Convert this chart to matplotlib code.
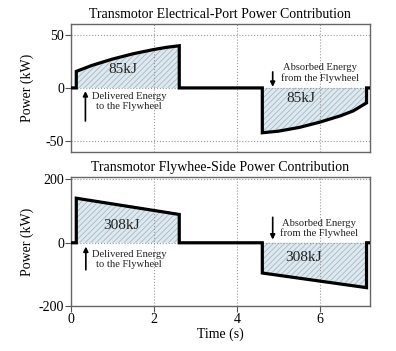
import numpy as np
import matplotlib
matplotlib.use("Agg")
import matplotlib.pyplot as plt

plt.rcParams['font.family'] = ['Liberation Serif', 'DejaVu Serif']
plt.rcParams['axes.unicode_minus'] = False
plt.rcParams['hatch.color'] = '#a9b7bf'
plt.rcParams['hatch.linewidth'] = 0.6

# electrical-port power (kW) vs time (s)
t_elec = [0, 0.13, 0.13, 0.5, 1.0, 1.5, 2.0, 2.3, 2.61, 2.61,
          4.61, 4.61, 5.0, 5.5, 6.0, 6.5, 6.8, 7.12, 7.12, 7.2]
p_elec = [0, 0, 15.5, 21, 27, 32, 36, 38, 39.5, 0,
          0, -42, -40.5, -37, -32, -26, -21.5, -14, 0, 0]

# flywheel-side power (kW) vs time (s)
t_fly = [0, 0.13, 0.13, 2.61, 2.61, 4.61, 4.61, 7.12, 7.12, 7.2]
p_fly = [0, 0, 140, 89, 0, 0, -95, -141, 0, 0]

titles = ["Transmotor Electrical-Port Power Contribution",
          "Transmotor Flywhee-Side Power Contribution"]
energy_labels = ["85kJ", "308kJ"]
delivered_txt = "Delivered Energy\nto the Flywheel"
absorbed_txt = "Absorbed Energy\nfrom the Flywheel"

fig = plt.figure(figsize=(3.96, 3.51), dpi=100)
ax1 = fig.add_axes([0.179, 0.567, 0.755, 0.365])
ax2 = fig.add_axes([0.179, 0.127, 0.755, 0.369])

panels = [
    # ax, t, p, ylim, yticks, energy pos (pos, neg), delivered text/arrow, absorbed text/arrow
    (ax1, t_elec, p_elec, (-60, 60), [-50, 0, 50],
     [(1.25, 17), (5.55, -10)],
     (1.4, -13), (0.35, -31, -3), (6.0, 14), (4.86, 15, 1)),
    (ax2, t_fly, p_fly, (-200, 207), [-200, 0, 200],
     [(1.23, 54), (5.6, -47)],
     (1.4, -52), (0.36, -85, -12), (5.97, 45), (4.86, 80, 10)),
]

for i, (ax, t, p, ylim, yticks, epos, dtxt, darr, atxt, aarr) in enumerate(panels):
    ax.fill_between(t, p, 0, facecolor='#dde9f0', hatch='//////',
                    edgecolor='#a9b7bf', linewidth=0, zorder=1)
    ax.plot(t, p, color='black', lw=2.3, solid_joinstyle='miter', zorder=3)
    ax.set_xlim(0, 7.2)
    ax.set_ylim(*ylim)
    ax.set_yticks(yticks)
    ax.set_xticks([0, 2, 4, 6])
    ax.grid(True, linestyle=':', color='#999999', lw=0.8, zorder=0)
    for s in ax.spines.values():
        s.set_color('#666666')
        s.set_linewidth(1.0)
    ax.tick_params(labelsize=10, length=4, width=0.8, color='#555555', pad=1)
    ax.set_ylabel("Power (kW)", fontsize=10)
    ax.yaxis.set_label_coords(-0.125, 0.5)
    ax.set_title(titles[i], fontsize=10, pad=4)

    for (x, y) in epos:
        ax.text(x, y, energy_labels[i], fontsize=11, ha='center', va='center',
                color='#222222', zorder=4)

    ax.text(dtxt[0], dtxt[1], delivered_txt, fontsize=7.6, ha='center', va='center',
            multialignment='center', linespacing=1.15, color='#222222', zorder=4)
    ax.annotate("", xy=(darr[0], darr[2]), xytext=(darr[0], darr[1]),
                arrowprops=dict(arrowstyle='-|>', color='black', lw=1.2,
                                mutation_scale=7, shrinkA=0, shrinkB=0), zorder=4)
    ax.text(atxt[0], atxt[1], absorbed_txt, fontsize=7.6, ha='center', va='center',
            multialignment='center', linespacing=1.15, color='#222222', zorder=4)
    ax.annotate("", xy=(aarr[0], aarr[2]), xytext=(aarr[0], aarr[1]),
                arrowprops=dict(arrowstyle='-|>', color='black', lw=1.2,
                                mutation_scale=7, shrinkA=0, shrinkB=0), zorder=4)

ax1.tick_params(axis='x', bottom=False, labelbottom=False)
ax2.set_xlabel("Time (s)", fontsize=10, labelpad=1)

fig.savefig("out.png", dpi=100)
